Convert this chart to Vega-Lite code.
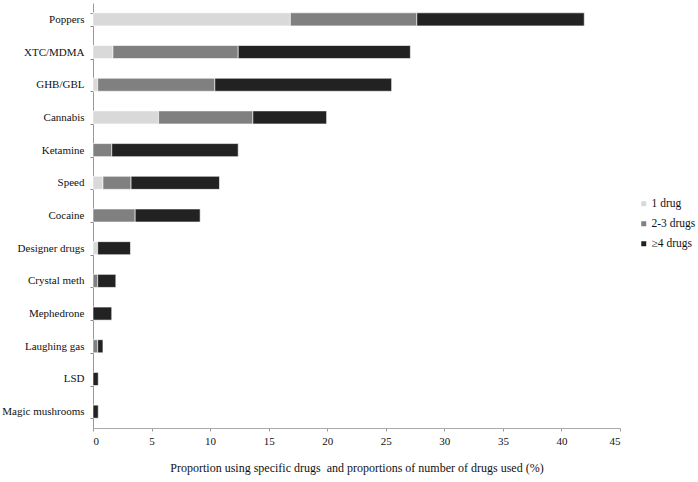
{
  "$schema": "https://vega.github.io/schema/vega-lite/v6.json",
  "width": 527,
  "height": 425,
  "autosize": {"type": "none"},
  "padding": {"left": 93, "top": 3, "right": 78, "bottom": 54},
  "background": "white",
  "config": {
    "view": {"stroke": null},
    "font": "Liberation Serif",
    "axis": {"labelFont": "Liberation Serif", "titleFont": "Liberation Serif", "grid": false}
  },
  "data": {
    "values": [
      {"drug": "Poppers", "group": "1 drug", "k": 1, "value": 16.85},
      {"drug": "Poppers", "group": "2-3 drugs", "k": 2, "value": 10.8},
      {"drug": "Poppers", "group": "≥4 drugs", "k": 3, "value": 14.3},
      {"drug": "XTC/MDMA", "group": "1 drug", "k": 1, "value": 1.7},
      {"drug": "XTC/MDMA", "group": "2-3 drugs", "k": 2, "value": 10.7},
      {"drug": "XTC/MDMA", "group": "≥4 drugs", "k": 3, "value": 14.7},
      {"drug": "GHB/GBL", "group": "1 drug", "k": 1, "value": 0.4},
      {"drug": "GHB/GBL", "group": "2-3 drugs", "k": 2, "value": 10.0},
      {"drug": "GHB/GBL", "group": "≥4 drugs", "k": 3, "value": 15.1},
      {"drug": "Cannabis", "group": "1 drug", "k": 1, "value": 5.6},
      {"drug": "Cannabis", "group": "2-3 drugs", "k": 2, "value": 8.05},
      {"drug": "Cannabis", "group": "≥4 drugs", "k": 3, "value": 6.3},
      {"drug": "Ketamine", "group": "2-3 drugs", "k": 2, "value": 1.6},
      {"drug": "Ketamine", "group": "≥4 drugs", "k": 3, "value": 10.8},
      {"drug": "Speed", "group": "1 drug", "k": 1, "value": 0.85},
      {"drug": "Speed", "group": "2-3 drugs", "k": 2, "value": 2.4},
      {"drug": "Speed", "group": "≥4 drugs", "k": 3, "value": 7.55},
      {"drug": "Cocaine", "group": "2-3 drugs", "k": 2, "value": 3.6},
      {"drug": "Cocaine", "group": "≥4 drugs", "k": 3, "value": 5.55},
      {"drug": "Designer drugs", "group": "1 drug", "k": 1, "value": 0.4},
      {"drug": "Designer drugs", "group": "≥4 drugs", "k": 3, "value": 2.8},
      {"drug": "Crystal meth", "group": "2-3 drugs", "k": 2, "value": 0.4},
      {"drug": "Crystal meth", "group": "≥4 drugs", "k": 3, "value": 1.55},
      {"drug": "Mephedrone", "group": "≥4 drugs", "k": 3, "value": 1.6},
      {"drug": "Laughing gas", "group": "2-3 drugs", "k": 2, "value": 0.4},
      {"drug": "Laughing gas", "group": "≥4 drugs", "k": 3, "value": 0.45},
      {"drug": "LSD", "group": "≥4 drugs", "k": 3, "value": 0.45},
      {"drug": "Magic mushrooms", "group": "≥4 drugs", "k": 3, "value": 0.45}
    ]
  },
  "mark": {"type": "bar", "stroke": "white", "strokeWidth": 0.6},
  "encoding": {
    "y": {
      "field": "drug",
      "type": "nominal",
      "sort": ["Poppers", "XTC/MDMA", "GHB/GBL", "Cannabis", "Ketamine", "Speed", "Cocaine", "Designer drugs", "Crystal meth", "Mephedrone", "Laughing gas", "LSD", "Magic mushrooms"],
      "scale": {"paddingInner": 0.6, "paddingOuter": 0.3},
      "axis": {
        "title": null,
        "tickBand": "extent",
        "tickSize": 3,
        "tickColor": "#888888",
        "domainColor": "#999999",
        "labelFontSize": 11,
        "labelColor": "#111111",
        "labelPadding": 6
      }
    },
    "x": {
      "field": "value",
      "type": "quantitative",
      "aggregate": "sum",
      "stack": "zero",
      "scale": {"domain": [0, 45], "nice": false},
      "axis": {
        "title": "Proportion using specific drugs\u00a0 and proportions of number of drugs used (%)",
        "values": [0, 5, 10, 15, 20, 25, 30, 35, 40, 45],
        "tickSize": 3,
        "tickColor": "#999999",
        "domainColor": "#aaaaaa",
        "labelFontSize": 11,
        "labelColor": "#111111",
        "labelPadding": 4,
        "titleFontSize": 12,
        "titleFontWeight": "normal",
        "titleColor": "#111111",
        "titlePadding": 16
      }
    },
    "color": {
      "field": "group",
      "type": "nominal",
      "sort": ["1 drug", "2-3 drugs", "≥4 drugs"],
      "scale": {"domain": ["1 drug", "2-3 drugs", "≥4 drugs"], "range": ["#d9d9d9", "#808080", "#222222"]},
      "legend": {
        "title": null,
        "orient": "none",
        "legendX": 545,
        "legendY": 195,
        "padding": 0,
        "symbolType": "square",
        "symbolSize": 25,
        "symbolStrokeWidth": 0,
        "labelFontSize": 11.5,
        "labelFont": "Liberation Serif",
        "labelColor": "#111111",
        "labelOffset": 2,
        "rowPadding": 7
      }
    },
    "order": {"field": "k", "type": "quantitative"}
  }
}
